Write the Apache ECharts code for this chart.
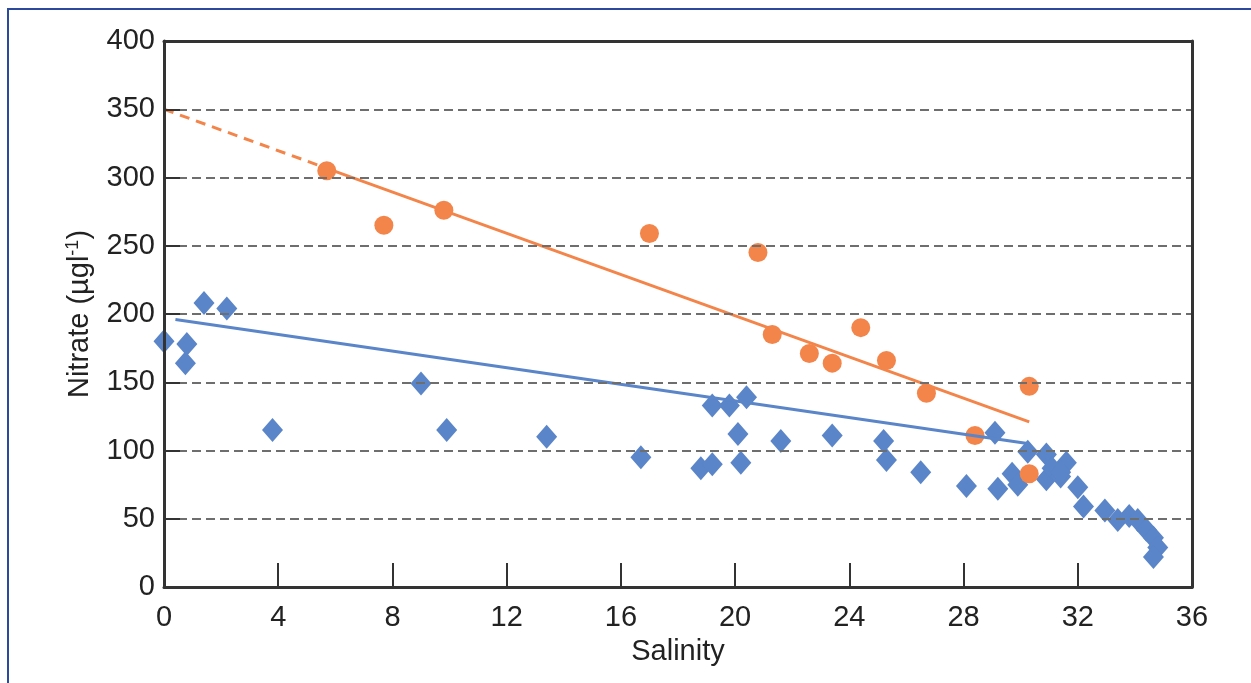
<!DOCTYPE html>
<html>
<head>
<meta charset="utf-8">
<script src="https://cdn.jsdelivr.net/npm/echarts@6/dist/echarts.min.js"></script>
<style>
  html, body { margin: 0; padding: 0; background: #fff; overflow: hidden; }
  #frame { position: absolute; left: 7px; top: 8px; width: 1400px; height: 900px; border: 2px solid #2B4A9C; }
  #chart { position: absolute; left: 0; top: 0; width: 1251px; height: 683px; }
</style>
</head>
<body>
<div id="frame"></div>
<div id="chart"></div>
<script>
// salinity / nitrate readings, diamonds (blue)
const blueSal = [0, 0.8, 0.75, 1.4, 2.2, 3.8, 9.0, 9.9, 13.4, 16.7, 18.8, 19.2, 19.2, 19.8, 20.1, 20.2, 20.4, 21.6,
  23.4, 25.2, 25.3, 26.5, 28.1, 29.1, 29.2, 29.7, 29.9, 30.25, 30.9, 30.9, 31.1, 31.4, 31.6, 31.4, 32.0, 32.2,
  32.95, 33.4, 33.8, 34.1, 34.4, 34.65, 34.8, 34.65];
const blueNit = [180, 178, 164, 208, 204, 115, 149, 115, 110, 95, 87, 90, 133, 133, 112, 91, 139, 107,
  111, 107, 93, 84, 74, 113, 72, 83, 75, 99, 97, 79, 87, 81, 91, 84, 73, 59,
  56, 49, 52, 49, 42, 36, 29, 22];

// circles (orange)
const orangeSal = [5.7, 7.7, 9.8, 17.0, 20.8, 21.3, 22.6, 23.4, 24.4, 25.3, 26.7, 28.4, 30.3, 30.3];
const orangeNit = [305, 265, 276, 259, 245, 185, 171, 164, 190, 166, 142, 111, 147, 83];

// fitted lines
const blueFit = [[0.4, 196], [30.3, 105]];
const orangeFit = [[5.8, 306], [30.3, 121]];
const orangeExtrap = [[0, 350], [5.8, 306]];

const xTicks = [0, 4, 8, 12, 16, 20, 24, 28, 32, 36];
const yTicks = [0, 50, 100, 150, 200, 250, 300, 350, 400];

const BLUE = '#5A85C8';
const ORANGE = '#F3854A';
const FONT = "'Liberation Sans', Arial, sans-serif";

const chart = echarts.init(document.getElementById('chart'));
chart.setOption({
  animation: false,
  textStyle: { fontFamily: FONT },
  grid: { left: 164, right: 59, top: 41, bottom: 96 },
  xAxis: [
    {
      type: 'value',
      min: xTicks[0], max: xTicks[xTicks.length - 1], interval: 4,
      name: 'Salinity', nameLocation: 'middle', nameGap: 50,
      nameTextStyle: { fontSize: 29, color: '#222', fontFamily: FONT },
      axisLine: { show: true, onZero: false, lineStyle: { color: '#333', width: 3 } },
      axisTick: { show: true, inside: true, length: 24, lineStyle: { color: '#333', width: 2 } },
      axisLabel: { fontSize: 29, color: '#222', margin: 16, fontFamily: FONT },
      splitLine: { show: false },
      z: 5
    },
    {
      type: 'value', position: 'top',
      min: 0, max: 36, interval: 4,
      axisLine: { show: true, onZero: false, lineStyle: { color: '#333', width: 3 } },
      axisTick: { show: false }, axisLabel: { show: false }, splitLine: { show: false },
      z: 5
    }
  ],
  yAxis: [
    {
      type: 'value',
      min: yTicks[0], max: yTicks[yTicks.length - 1], interval: 50,
      name: 'Nitrate (µgl{sup|-1})', nameLocation: 'middle', nameGap: 68,
      nameTextStyle: {
        fontSize: 29, color: '#222', fontFamily: FONT,
        rich: { sup: { fontSize: 18, color: '#222', padding: [0, 0, 14, 0], fontFamily: FONT } }
      },
      axisLine: { show: true, onZero: false, lineStyle: { color: '#333', width: 3 } },
      axisTick: { show: true, inside: true, length: 16, lineStyle: { color: '#333', width: 2 } },
      axisLabel: { fontSize: 29, color: '#222', margin: 9, fontFamily: FONT, padding: [4, 0, 0, 0] },
      splitLine: { show: true, lineStyle: { color: '#6e6e6e', width: 2, type: [9, 5] } },
      z: 5
    },
    {
      type: 'value', position: 'right',
      min: 0, max: 400, interval: 50,
      axisLine: { show: true, onZero: false, lineStyle: { color: '#333', width: 3 } },
      axisTick: { show: false }, axisLabel: { show: false }, splitLine: { show: false },
      z: 5
    }
  ],
  series: [
    {
      type: 'scatter',
      symbol: 'diamond', symbolSize: [21, 24],
      itemStyle: { color: BLUE, opacity: 1 },
      data: blueSal.map((s, i) => [s, blueNit[i]])
    },
    {
      type: 'line',
      data: blueFit, symbol: 'none',
      lineStyle: { color: BLUE, width: 3 }
    },
    {
      type: 'scatter',
      symbol: 'circle', symbolSize: 19,
      itemStyle: { color: ORANGE, opacity: 1 },
      data: orangeSal.map((s, i) => [s, orangeNit[i]])
    },
    {
      type: 'line',
      data: orangeFit, symbol: 'none',
      lineStyle: { color: ORANGE, width: 3 }
    },
    {
      type: 'line',
      data: orangeExtrap, symbol: 'none',
      lineStyle: { color: ORANGE, width: 3, type: [10, 7] }
    }
  ]
});
</script>
</body>
</html>
